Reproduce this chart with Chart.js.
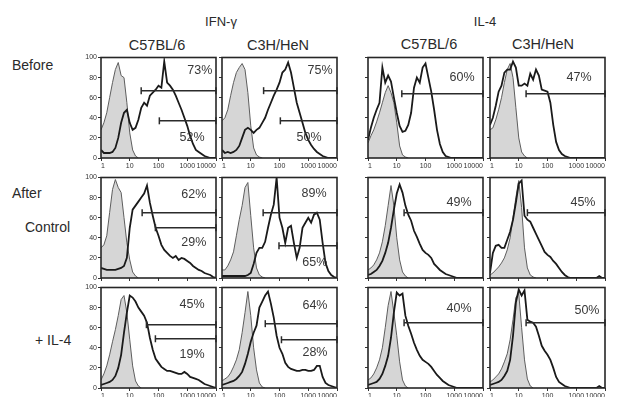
<!DOCTYPE html>
<html>
<head>
<meta charset="utf-8">
<script src="https://cdn.jsdelivr.net/npm/chart.js@4.4.1/dist/chart.umd.min.js"></script>
<style>
body { margin: 0; background: #fff; width: 617px; height: 397px; overflow: hidden; position: relative;
       font-family: "Liberation Sans", Arial, sans-serif; color: #2a2a2a; }
.c { position: absolute; white-space: nowrap; line-height: 1; transform: translate(-50%, -50%); }
.l { position: absolute; white-space: nowrap; line-height: 1; transform: translateY(-50%); }
canvas { position: absolute; }
</style>
</head>
<body>
<div class="c" style="left:221px;top:21px;font-size:13px">IFN-γ</div>
<div class="c" style="left:485px;top:21px;font-size:13px">IL-4</div>
<div class="c" style="left:157px;top:45px;font-size:14.5px">C57BL/6</div>
<div class="c" style="left:278px;top:45px;font-size:14.5px">C3H/HeN</div>
<div class="c" style="left:429px;top:44px;font-size:14.5px">C57BL/6</div>
<div class="c" style="left:543px;top:44px;font-size:14.5px">C3H/HeN</div>
<div class="l" style="left:12px;top:65px;font-size:14px">Before</div>
<div class="l" style="left:12px;top:193px;font-size:14px">After</div>
<div class="l" style="left:25px;top:227px;font-size:14px">Control</div>
<div class="l" style="left:35px;top:340px;font-size:14px">+ IL-4</div>

<script>
// fluorescence channels (log spaced, 10 per decade)
const channels = [1, 1.259, 1.585, 1.995, 2.512, 3.162, 3.981, 5.012, 6.31, 7.943,
  10, 12.59, 15.85, 19.95, 25.12, 31.62, 39.81, 50.12, 63.1, 79.43,
  100, 125.9, 158.5, 199.5, 251.2, 316.2, 398.1, 501.2, 631, 794.3,
  1000, 1259, 1585, 1995, 2512, 3162, 3981, 5012, 6310, 7943, 10000];
const xTicks = [1, 10, 100, 1000, 10000];
const xTickLabels = ["1", "10", "100", "1000", "10000"];
const yTicks = [0, 20, 40, 60, 80, 100];

// IFN-g, C57BL/6
const ifnB6Before = [8,5,5,5,6,10,20,35,45,48,35,28,30,38,50,55,52,62,65,68,72,70,96,75,72,68,62,55,48,40,32,22,14,8,6,4,2,1,0,0,0];
const ifnB6BeforeIso = [28,35,45,60,75,88,95,82,80,55,25,8,2,0];
const ifnB6Control = [10,9,8,8,8,8,9,10,12,20,50,68,72,76,80,84,92,75,62,50,42,33,28,25,22,20,22,18,20,19,17,15,12,10,8,7,5,4,3,1,0];
const ifnB6ControlIso = [30,33,42,65,88,98,90,85,60,35,18,6,2,0];
const ifnB6IL4 = [3,4,5,6,8,12,20,33,55,75,92,90,86,80,76,72,65,50,38,29,25,21,19,17,17,16,15,14,14,16,14,11,10,9,8,6,4,3,2,1,0];
const ifnB6IL4Iso = [8,14,22,33,46,58,72,88,92,75,48,22,7,2,0];
// IFN-g, C3H/HeN
const ifnC3Before = [8,5,6,5,6,8,12,20,28,30,28,25,28,30,35,40,48,55,62,68,75,85,88,95,85,70,55,45,35,25,18,13,9,6,4,2,1,0,0,0,0];
const ifnC3BeforeIso = [37,40,48,62,75,85,90,94,88,65,32,10,3,1,0];
const ifnC3Control = [2,2,2,2,2,2,2,2,2,3,5,14,25,30,30,36,50,63,73,100,60,50,35,50,52,35,20,30,50,55,60,55,63,65,58,35,15,7,3,1,0];
const ifnC3ControlIso = [8,8,12,18,26,42,58,72,90,95,62,30,10,3,1,0];
const ifnC3IL4 = [3,4,5,6,7,9,12,16,24,34,46,55,62,80,86,92,96,84,70,52,40,34,25,21,19,18,17,17,18,18,17,17,18,22,22,11,5,3,2,1,0];
const ifnC3IL4Iso = [7,9,11,15,21,28,38,55,75,96,72,40,18,5,1,0];
// IL-4, C57BL/6
const il4B6Before = [18,30,40,48,55,90,75,82,76,60,45,32,26,27,33,45,70,80,75,90,94,80,66,48,28,14,6,2,1,0,0,0,0,0,0,0,0,0,0,0,0];
const il4B6BeforeIso = [15,22,28,36,45,55,65,72,65,55,35,12,3,1,0];
const il4B6Control = [3,4,6,8,12,17,25,35,50,68,84,93,85,72,63,57,47,41,34,28,25,23,20,14,11,8,6,4,3,2,1,0,0,0,0,0,0,0,0,0,0];
const il4B6ControlIso = [8,10,13,18,25,36,52,72,92,72,40,18,6,2,0];
const il4B6IL4 = [3,4,5,6,9,14,22,32,50,75,95,92,94,72,62,54,45,38,32,28,26,24,21,17,13,10,7,5,3,2,1,0,0,0,0,0,0,0,0,0,0];
const il4B6IL4Iso = [8,10,14,20,28,40,60,82,96,75,52,26,8,2,0];
// IL-4, C3H/HeN
const il4C3Before = [33,40,52,66,72,85,88,88,96,90,72,72,74,72,84,78,88,82,68,67,66,55,33,16,8,4,2,1,0,0,0,0,0,0,0,0,0,0,0,0,0];
const il4C3BeforeIso = [28,30,38,48,60,75,88,94,80,50,20,6,2,0];
const il4C3Control = [5,25,32,33,30,30,38,46,58,75,94,97,62,58,56,50,44,38,32,26,23,21,17,14,10,6,3,1,0,0,0,0,0,0,0,0,0,0,2,0,0];
const il4C3ControlIso = [3,5,8,11,15,20,28,40,60,80,97,70,30,10,3,1,0];
const il4C3IL4 = [3,4,5,6,8,12,17,28,52,85,98,92,97,68,66,65,61,52,42,37,33,28,20,11,6,4,2,1,0,0,0,0,0,0,0,0,0,0,2,0,0];
const il4C3IL4Iso = [6,8,11,14,19,26,34,48,68,90,94,60,28,9,2,0];

// gates: [start channel, level]; percent positive
const gatesA = [[25, 67], [107, 37]], pctA = ["73%", "52%"];
const gatesB = [[28, 67], [107, 37]], pctB = ["75%", "50%"];
const gatesC = [[15, 64]], pctC = ["60%"];
const gatesD = [[18, 64]], pctD = ["47%"];
const gatesE = [[27, 65], [78, 50]], pctE = ["62%", "29%"];
const gatesF = [[27, 65], [96, 32]], pctF = ["89%", "65%"];
const gatesG = [[18, 65]], pctG = ["49%"];
const gatesH = [[20, 65]], pctH = ["45%"];
const gatesI = [[38, 63], [78, 49]], pctI = ["45%", "19%"];
const gatesJ = [[32, 64], [117, 48]], pctJ = ["64%", "28%"];
const gatesK = [[18, 65]], pctK = ["40%"];
const gatesL = [[18, 65]], pctL = ["50%"];

// layout
const colX = [101, 222, 368, 490];
const rowY = [57, 177, 287];
const PW = 115, PH = 101;
const AX_W = 24, AX_H = 13, PAD_T = 5, PAD_R = 8;

const panels = [
  {r: 0, c: 0, line: ifnB6Before, iso: ifnB6BeforeIso, gates: gatesA, pct: pctA, at: [[2750, 87], [1470, 20]]},
  {r: 0, c: 1, line: ifnC3Before, iso: ifnC3BeforeIso, gates: gatesB, pct: pctB, at: [[2570, 87], [1070, 20]]},
  {r: 0, c: 2, line: il4B6Before, iso: il4B6BeforeIso, gates: gatesC, pct: pctC, at: [[1860, 80]]},
  {r: 0, c: 3, line: il4C3Before, iso: il4C3BeforeIso, gates: gatesD, pct: pctD, at: [[1250, 80]]},
  {r: 1, c: 0, line: ifnB6Control, iso: ifnB6ControlIso, gates: gatesE, pct: pctE, at: [[1700, 83], [1700, 35]]},
  {r: 1, c: 1, line: ifnC3Control, iso: ifnC3ControlIso, gates: gatesF, pct: pctF, at: [[1590, 84], [1700, 15]]},
  {r: 1, c: 2, line: il4B6Control, iso: il4B6ControlIso, gates: gatesG, pct: pctG, at: [[1470, 75]]},
  {r: 1, c: 3, line: il4C3Control, iso: il4C3ControlIso, gates: gatesH, pct: pctH, at: [[1710, 75]]},
  {r: 2, c: 0, line: ifnB6IL4, iso: ifnB6IL4Iso, gates: gatesI, pct: pctI, at: [[1470, 83], [1470, 33]]},
  {r: 2, c: 1, line: ifnC3IL4, iso: ifnC3IL4Iso, gates: gatesJ, pct: pctJ, at: [[1710, 82], [1710, 35]]},
  {r: 2, c: 2, line: il4B6IL4, iso: il4B6IL4Iso, gates: gatesK, pct: pctK, at: [[1470, 79]]},
  {r: 2, c: 3, line: il4C3IL4, iso: il4C3IL4Iso, gates: gatesL, pct: pctL, at: [[2360, 77]]}
];

const panelDecor = {
  id: "panelDecor",
  afterDraw(chart, args, opts) {
    const {ctx, chartArea: a, scales: {x, y}} = chart;
    ctx.save();
    ctx.strokeStyle = "#262626";
    ctx.lineWidth = 1.6;
    ctx.strokeRect(a.left, a.top, a.right - a.left, a.bottom - a.top);
    ctx.fillStyle = "#383838";
    ctx.font = '12.5px "Liberation Sans", Arial, sans-serif';
    ctx.textAlign = "center";
    ctx.textBaseline = "middle";
    opts.labels.forEach((t, i) => {
      ctx.fillText(t, x.getPixelForValue(opts.at[i][0]), y.getPixelForValue(opts.at[i][1]));
    });
    ctx.restore();
  }
};

const toPoints = arr => arr.map((v, i) => ({x: channels[i], y: v}));
const tickFont = {family: '"Liberation Sans", Arial, sans-serif', size: 7};

panels.forEach(p => {
  const cv = document.createElement("canvas");
  cv.width = PW + AX_W + PAD_R;
  cv.height = PH + PAD_T + AX_H;
  cv.style.left = (colX[p.c] - AX_W) + "px";
  cv.style.top = (rowY[p.r] - PAD_T) + "px";
  document.body.appendChild(cv);

  const datasets = [
    {data: toPoints(p.line), borderColor: "#1a1a1a", borderWidth: 1.8, pointRadius: 0, tension: 0, fill: false, order: 1},
    {data: toPoints(p.iso), borderColor: "#5e5e5e", borderWidth: 1, backgroundColor: "#d6d6d6", pointRadius: 0, tension: 0, fill: "origin", order: 2}
  ];
  p.gates.forEach(g => datasets.push({
    data: [{x: g[0], y: g[1]}, {x: 10000, y: g[1]}],
    borderColor: "#2b2b2b", borderWidth: 1.5, pointStyle: "line", pointRotation: 90,
    pointRadius: 3.5, pointBorderWidth: 1.5, pointBorderColor: "#2b2b2b", clip: false, order: 0
  }));

  new Chart(cv, {
    type: "line",
    data: {datasets},
    plugins: [panelDecor],
    options: {
      responsive: false,
      animation: false,
      events: [],
      layout: {padding: {top: PAD_T, right: PAD_R, left: 0, bottom: 0}},
      plugins: {
        legend: {display: false},
        tooltip: {enabled: false},
        panelDecor: {labels: p.pct, at: p.at}
      },
      scales: {
        x: {
          type: "logarithmic", min: 1, max: 10000,
          afterBuildTicks: s => { s.ticks = xTicks.map(v => ({value: v})); },
          afterFit: s => { s.height = AX_H; },
          ticks: {display: p.r !== 1, autoSkip: false, maxRotation: 0, align: "inner", padding: 1,
                  font: tickFont, color: "#333", callback: (v, i) => xTickLabels[i]},
          grid: {drawOnChartArea: false, tickLength: 3, color: "#333"},
          border: {display: false}
        },
        y: {
          min: 0, max: 100,
          afterBuildTicks: s => { s.ticks = yTicks.map(v => ({value: v})); },
          afterFit: s => { s.width = AX_W; },
          ticks: {display: p.c === 0, padding: 1, font: tickFont, color: "#333", callback: v => String(v)},
          grid: {drawOnChartArea: false, tickLength: 3, color: "#333"},
          border: {display: false}
        }
      }
    }
  });
});
</script>
</body>
</html>
